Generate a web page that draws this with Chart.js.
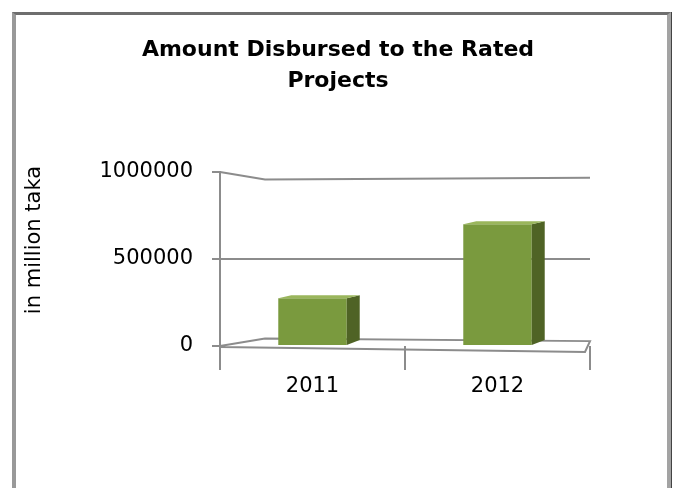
<!DOCTYPE html>
<html>
<head>
<meta charset="utf-8">
<script src="https://cdn.jsdelivr.net/npm/chart.js@4"></script>
<style>
  body { margin: 0; background: #fff; }
  #wrap { position: relative; width: 676px; height: 488px; overflow: hidden; }
  #frame {
    position: absolute; left: 12px; top: 12px; width: 651px; height: 600px;
    border-top: 3px solid #6e6e6e; border-left: 4px solid #999; border-right: 4px solid #a3a3a3;
    box-shadow: 1px 0 0 #444; pointer-events: none;
  }
  #myChart { position: absolute; left: 0; top: 0; }
</style>
</head>
<body>
<div id="wrap">
  <canvas id="myChart" width="676" height="488"></canvas>
  <div id="frame"></div>
</div>
<script>
const years = ['2011', '2012'];
const disbursed = [275000, 700000];
const yTicks = [0, 500000, 1000000];

const gridGray = '#8c8c8c';
const depthX = 13;
const depthY = 3;

// back wall lines and floor, drawn behind the bars
const wallPlugin = {
    id: 'wall',
    beforeDatasetsDraw(chart) {
        const ctx = chart.ctx;
        const y = chart.scales.y;
        const area = chart.chartArea;
        const back = area.left + 45;
        ctx.save();
        ctx.strokeStyle = gridGray;
        ctx.lineWidth = 2;
        yTicks.forEach(function(v) {
            const py = y.getPixelForValue(v);
            const off = (v - 500000) / 500000 * 7.5;
            if (v === 0) {
                // floor
                ctx.beginPath();
                ctx.moveTo(area.left, py);
                ctx.lineTo(back, py + off);
                ctx.lineTo(area.right, py + off * 0.65);
                ctx.lineTo(area.right - 5, py + 6);
                ctx.lineTo(area.left, py + 1);
                ctx.stroke();
            } else {
                ctx.beginPath();
                ctx.moveTo(area.left, py);
                ctx.lineTo(back, py + off);
                ctx.lineTo(area.right, py + off * 0.75);
                ctx.stroke();
            }
        });
        ctx.restore();
    }
};

// side and top faces for each bar
const boxPlugin = {
    id: 'box',
    afterDatasetsDraw(chart) {
        const ctx = chart.ctx;
        chart.getDatasetMeta(0).data.forEach(function(bar) {
            const p = bar.getProps(['x', 'y', 'width', 'base'], true);
            const l = p.x - p.width / 2;
            const r = p.x + p.width / 2;
            ctx.save();
            ctx.fillStyle = '#4f6325';
            ctx.beginPath();
            ctx.moveTo(r, p.y);
            ctx.lineTo(r + depthX, p.y - depthY);
            ctx.lineTo(r + depthX, p.base - depthY - 2);
            ctx.lineTo(r, p.base);
            ctx.closePath();
            ctx.fill();
            ctx.fillStyle = '#9ab65c';
            ctx.beginPath();
            ctx.moveTo(l, p.y);
            ctx.lineTo(l + depthX, p.y - depthY);
            ctx.lineTo(r + depthX, p.y - depthY);
            ctx.lineTo(r, p.y);
            ctx.closePath();
            ctx.fill();
            ctx.restore();
        });
    }
};

// rotated axis caption, sits a bit above the middle of the plot
const yCaption = {
    id: 'yCaption',
    afterDraw(chart) {
        const ctx = chart.ctx;
        const area = chart.chartArea;
        ctx.save();
        ctx.translate(35, (area.top + area.bottom) / 2 - 19);
        ctx.rotate(-Math.PI / 2);
        ctx.font = '21px "DejaVu Sans"';
        ctx.fillStyle = '#000';
        ctx.textAlign = 'center';
        ctx.textBaseline = 'middle';
        ctx.fillText('in million taka', 0, 0);
        ctx.restore();
    }
};

const data = {
    labels: years,
    datasets: [{
        data: disbursed,
        backgroundColor: '#7a9a3e',
        borderWidth: 0,
        barPercentage: 0.37,
        categoryPercentage: 1
    }]
};

const config = {
    type: 'bar',
    data: data,
    plugins: [wallPlugin, boxPlugin, yCaption],
    options: {
        responsive: false,
        animation: false,
        layout: { padding: 0 },
        plugins: {
            legend: { display: false },
            tooltip: { enabled: false },
            title: {
                display: true,
                text: ['Amount Disbursed to the Rated', 'Projects'],
                color: '#000',
                font: { family: 'DejaVu Sans', size: 22, weight: 'bold', lineHeight: 1.41 },
                padding: { top: 35, bottom: 75 }
            }
        },
        scales: {
            x: {
                grid: { offset: true, drawOnChartArea: false, tickLength: 24, color: gridGray, lineWidth: 2 },
                border: { display: false },
                ticks: { color: '#000', padding: 4, font: { family: 'DejaVu Sans', size: 21 } },
                afterFit: function(s) { s.height = 142; }
            },
            y: {
                min: 0,
                max: 1000000,
                afterBuildTicks: function(s) { s.ticks = yTicks.map(function(v) { return { value: v }; }); },
                grid: { drawOnChartArea: false, tickLength: 8, color: gridGray, lineWidth: 2 },
                border: { display: true, color: gridGray, width: 2 },
                ticks: { color: '#000', padding: 19, font: { family: 'DejaVu Sans', size: 21 }, callback: function(v) { return String(v); } },
                afterFit: function(s) { s.width = 220; }
            },
            // empty right-hand strip so the title stays centred on the page
            y2: {
                position: 'right',
                grid: { display: false },
                border: { display: false },
                ticks: { display: false },
                afterFit: function(s) { s.width = 86; }
            }
        }
    }
};

const myChart = new Chart(document.getElementById('myChart'), config);
</script>
</body>
</html>
